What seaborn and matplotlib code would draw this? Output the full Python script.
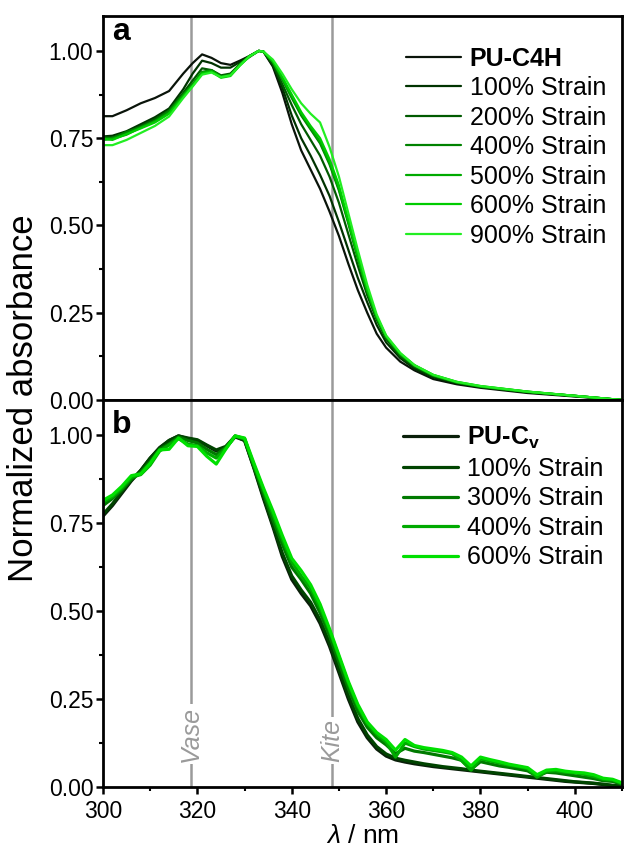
"""
UV-vis spectra of PU-C4H and PU-Cv films under strain
Two stacked panels, normalized absorbance vs wavelength
"""

import numpy as np
import pandas as pd
import matplotlib
matplotlib.use("Agg")
import matplotlib.pyplot as plt
from matplotlib.ticker import MultipleLocator
import seaborn as sns


# ---- panel a data ----
wl_a = [300, 302, 305, 308, 311, 314, 317, 319, 321, 323, 325, 327, 329, 331, 333, 334,
        336, 338, 340, 342, 344, 346, 348, 350, 352, 354, 356, 358, 360, 363, 366, 370,
        375, 380, 390, 400, 410]

labels_a = ["PU-C4H", "100% Strain", "200% Strain", "400% Strain",
            "500% Strain", "600% Strain", "900% Strain"]
colors_a = ["#0a140a", "#003300", "#005a00", "#008200", "#00aa00", "#00cc00", "#22ee22"]

pu_c4h = [.813, .813, .83, .85, .865, .885, .935, .965, .99, .98, .965, .96, .972, .985, 1.0, .998,
          .955, .88, .79, .715, .66, .605, .54, .47, .39, .315, .25, .19, .15, .11, .085, .06,
          .045, .035, .02, .01, .0]
a_100 = [.755, .757, .77, .79, .81, .835, .89, .935, .972, .965, .952, .952, .968, .985, 1.0, .998,
         .958, .895, .815, .75, .70, .645, .585, .51, .43, .35, .28, .215, .165, .12, .09, .065,
         .048, .037, .022, .011, .0]
a_200 = [.75, .752, .765, .785, .805, .83, .88, .915, .95, .945, .93, .935, .962, .982, 1.0, .998,
         .962, .905, .845, .79, .745, .70, .64, .565, .475, .385, .30, .23, .175, .125, .095, .068,
         .05, .038, .023, .012, .0]
a_400 = [.752, .75, .768, .782, .80, .828, .875, .905, .94, .945, .927, .932, .962, .985, 1.0, .998,
         .968, .918, .865, .815, .775, .735, .675, .60, .505, .405, .31, .235, .18, .13, .098, .07,
         .05, .038, .023, .012, .0]
a_500 = [.745, .748, .76, .78, .798, .822, .872, .902, .938, .943, .925, .93, .96, .984, 1.0, .998,
         .97, .922, .87, .82, .78, .74, .68, .605, .51, .41, .315, .238, .182, .132, .099, .071,
         .051, .039, .024, .012, .0]
a_600 = [.748, .745, .762, .778, .795, .82, .868, .90, .935, .94, .923, .928, .958, .984, 1.0, .998,
         .97, .925, .875, .825, .785, .75, .69, .615, .515, .415, .318, .24, .183, .133, .1, .072,
         .052, .04, .024, .012, .0]
a_900 = [.73, .73, .745, .765, .785, .812, .865, .898, .932, .938, .925, .93, .958, .984, 1.0, .998,
         .975, .935, .89, .85, .82, .795, .725, .64, .535, .43, .33, .245, .185, .135, .1, .072,
         .052, .04, .024, .012, .0]

# ---- panel b data ----
wl_b = list(range(300, 411, 2))

labels_b = ["PU-C$_\\mathregular{v}$", "100% Strain", "300% Strain", "400% Strain", "600% Strain"]
colors_b = ["#0a1f0a", "#004400", "#007a00", "#00aa00", "#00e000"]

pu_cv = [.77, .80, .835, .87, .90, .935, .965, .985, .998, .99, .985, .97, .955, .965, .995, .985,
         .905, .82, .74, .655, .59, .55, .515, .465, .40, .325, .25, .185, .14, .108, .088, .077,
         .071, .066, .062, .058, .055, .052, .049, .046, .043, .04, .037, .034, .031, .028, .025,
         .022, .019, .016, .014, .012, .01, .007, .004, .002]
b_100 = [.775, .805, .84, .872, .90, .935, .963, .985, .998, .992, .987, .972, .958, .968, .997, .985,
         .908, .825, .745, .665, .60, .56, .525, .475, .41, .335, .26, .195, .148, .115, .094, .082,
         .076, .071, .066, .062, .058, .055, .052, .048, .045, .042, .039, .036, .033, .03, .027,
         .024, .021, .018, .015, .013, .011, .008, .005, .003]
b_300 = [.80, .82, .845, .875, .895, .925, .96, .975, .995, .985, .978, .96, .945, .965, .997, .99,
         .91, .835, .76, .69, .625, .59, .55, .495, .43, .355, .28, .215, .17, .14, .12, .095,
         .11, .102, .098, .093, .088, .083, .076, .05, .072, .066, .06, .056, .051, .046, .03,
         .042, .04, .036, .032, .028, .024, .018, .016, .008]
b_400 = [.81, .825, .85, .88, .888, .915, .955, .972, .99, .975, .97, .95, .935, .962, .998, .99,
         .915, .845, .775, .705, .64, .60, .565, .51, .445, .37, .295, .23, .18, .15, .128, .085,
         .125, .115, .108, .104, .1, .095, .075, .048, .08, .074, .068, .062, .058, .052, .028,
         .045, .046, .042, .04, .036, .03, .022, .02, .01]
b_600 = [.815, .83, .855, .885, .89, .92, .958, .96, .992, .97, .968, .94, .918, .96, .998, .992,
         .92, .85, .785, .715, .65, .615, .575, .52, .45, .375, .30, .235, .185, .155, .135, .105,
         .135, .118, .112, .108, .104, .098, .085, .06, .085, .078, .072, .065, .06, .055, .035,
         .048, .05, .045, .042, .04, .035, .025, .022, .012]

vase_nm = 318.7
kite_nm = 348.5

# ---- style ----
sns.set_theme(style="ticks")
plt.rcParams["font.family"] = ["Liberation Sans", "DejaVu Sans"]
plt.rcParams["mathtext.fontset"] = "custom"
plt.rcParams["mathtext.rm"] = "Liberation Sans"
plt.rcParams["mathtext.it"] = "Liberation Sans:italic"
plt.rcParams["mathtext.bf"] = "Liberation Sans:bold"
plt.rcParams["text.color"] = "black"
plt.rcParams["axes.labelcolor"] = "black"

TICK_FS = 16.5
LEG_FS = 18
grey = "#9a9a9a"

fig = plt.figure(figsize=(6.24, 8.5), dpi=100)
ax_a = fig.add_axes([0.1651, 0.5294, 0.8317, 0.4518])
ax_b = fig.add_axes([0.1651, 0.0741, 0.8317, 0.4553])


def long_frame(wl, series, labels):
    frames = []
    for vals, lab in zip(series, labels):
        frames.append(pd.DataFrame({"wl": wl, "A": vals, "sample": lab}))
    return pd.concat(frames, ignore_index=True)


df_a = long_frame(wl_a, [pu_c4h, a_100, a_200, a_400, a_500, a_600, a_900], labels_a)
df_b = long_frame(wl_b, [pu_cv, b_100, b_300, b_400, b_600], labels_b)

for ax, df, labels, colors, lw, anchor in [(ax_a, df_a, labels_a, colors_a, 1.6, (0.584, 0.92)),
                                            (ax_b, df_b, labels_b, colors_b, 2.3, (0.578, 0.935))]:
    ax.axvline(vase_nm, color=grey, lw=1.8, zorder=0)
    ax.axvline(kite_nm, color=grey, lw=1.8, zorder=0)
    for lab, col in zip(labels, colors):
        sub = df[df["sample"] == lab]
        sns.lineplot(data=sub, x="wl", y="A", color=col, lw=lw, label=lab,
                     sort=False, estimator=None, ax=ax)

    ax.set_xlim(300, 410)
    ax.set_ylim(0, 1.1)
    ax.xaxis.set_major_locator(MultipleLocator(20))
    ax.xaxis.set_minor_locator(MultipleLocator(10))
    ax.yaxis.set_major_locator(MultipleLocator(0.25))
    ax.yaxis.set_minor_locator(MultipleLocator(0.125))
    ax.yaxis.set_major_formatter(plt.FormatStrFormatter("%.2f"))
    ax.tick_params(which="major", direction="out", length=5, width=1.8, labelsize=TICK_FS,
                   color="black", labelcolor="black", pad=2)
    ax.tick_params(axis="x", which="major", pad=4)
    ax.tick_params(which="minor", direction="out", length=3, width=1.5, color="black")
    for sp in ax.spines.values():
        sp.set_linewidth(2.0)
        sp.set_color("black")
    ax.set_xlabel("")
    ax.set_ylabel("")

    leg = ax.legend(loc="upper left", frameon=False, fontsize=LEG_FS, handlelength=2.2,
                    handletextpad=0.35, labelspacing=0.22, borderpad=0, borderaxespad=0,
                    bbox_to_anchor=anchor)
    leg.get_texts()[0].set_fontweight("bold")
    for t in leg.get_texts():
        t.set_color("black")
    for h in leg.get_lines():
        h.set_linewidth(lw)

ax_a.tick_params(axis="x", which="both", bottom=False, labelbottom=False)

ax_a.text(0.018, 0.998, "a", transform=ax_a.transAxes, fontsize=23, fontweight="bold",
          ha="left", va="top")
ax_b.text(0.018, 0.975, "b", transform=ax_b.transAxes, fontsize=23, fontweight="bold",
          ha="left", va="top")

for nm, name in [(vase_nm, "Vase"), (kite_nm, "Kite")]:
    ax_b.text(nm, 0.072, name, rotation=90, ha="center", va="bottom", fontsize=18,
              style="italic", color=grey,
              bbox=dict(facecolor="white", edgecolor="none", pad=1.5))

ax_b.set_xlabel("$\\lambda$ / nm", fontsize=19, labelpad=1)
fig.text(0.038, 0.532, "Normalized absorbance", rotation=90, ha="center", va="center",
         fontsize=25)

fig.savefig("out.png", dpi=100)
